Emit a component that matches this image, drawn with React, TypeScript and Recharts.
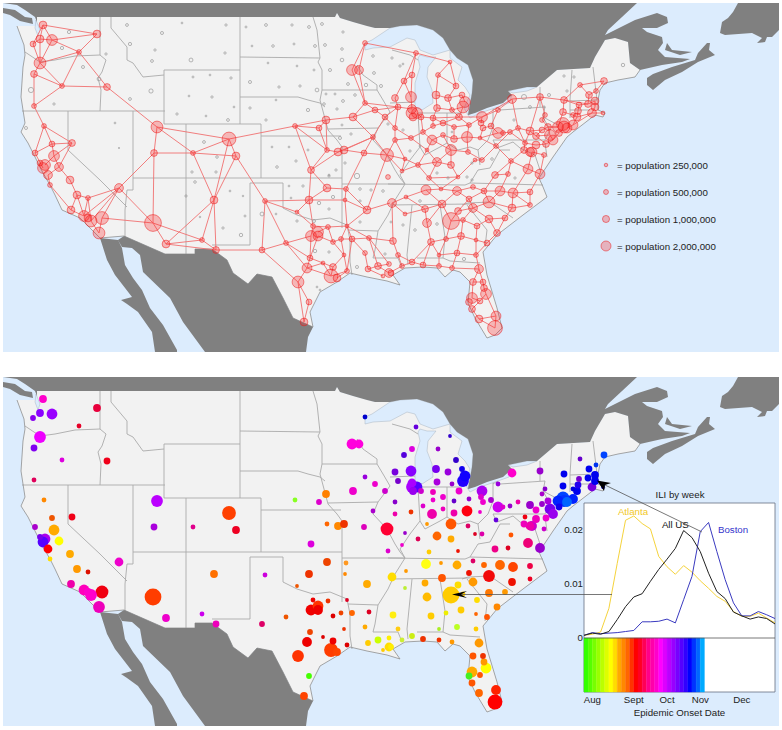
import React from 'react';
import {
  ScatterChart, Scatter, XAxis, YAxis, ZAxis, LineChart, Line, ReferenceArea, ReferenceLine, ReferenceDot,
} from 'recharts';

const FONT = '"Liberation Sans", Arial, sans-serif';
const SEA = '#dcecfd';
const LAND = '#f2f2f2';
const GREY = '#808080';

// outlines, in map units
const usCoast = [[17,26],[21,37],[24,45],[25,55],[23,67],[21,97],[23,110],[25,123],[21,132],[28,143],[35,157],[43,173],[50,185],[55,195],[62,210],[80,218],[97,235],[100,238],[124,236],[165,254],[195,254],[195,249],[212,249],[227,260],[233,273],[248,284],[257,274],[272,277],[283,298],[293,318],[313,327],[310,312],[320,292],[337,282],[350,273],[367,277],[387,281],[400,285],[393,275],[405,268],[423,267],[437,268],[445,277],[453,270],[460,272],[470,282],[468,303],[475,318],[487,338],[495,335],[502,328],[497,308],[487,275],[483,252],[497,235],[523,215],[547,197],[543,187],[539,178],[553,157],[567,137],[573,132],[595,115],[603,117],[605,113],[598,110],[598,100],[600,90],[605,83],[618,80],[635,77],[640,70]];
const usNorth = [[630,63],[628,42],[615,38],[605,40],[595,57],[590,68],[557,70],[537,87],[527,87],[508,91],[512,95],[503,103],[487,108],[475,113],[468,115],[473,80],[468,65],[457,58],[450,50],[443,38],[433,30],[417,25],[400,26],[390,28],[375,28],[353,22],[340,18],[337,13],[335,17],[37,17],[37,26],[17,26]];
const canadaOutline = [[3,3],[17,5],[25,10],[35,17],[37,22],[37,17],[335,17],[337,13],[340,18],[353,22],[367,26],[375,28],[390,28],[400,26],[417,25],[433,30],[443,38],[450,50],[457,58],[468,65],[473,80],[472,93],[468,115],[475,113],[487,108],[503,103],[512,95],[508,91],[527,87],[537,87],[557,70],[590,68],[595,57],[605,40],[615,38],[628,42],[630,63],[640,70],[662,65],[682,62],[690,59],[665,57],[658,50],[663,43],[662,37],[647,32],[642,28],[657,28],[668,23],[667,17],[657,13],[635,20],[615,30],[605,35],[608,30],[622,17],[637,3]];
const vancouverOutline = [[3,8],[15,10],[25,17],[32,18],[33,24],[20,21],[10,15],[3,13]];
const novaScotiaOutline = [[647,78],[653,74],[672,67],[695,60],[698,53],[707,43],[710,43],[709,50],[715,55],[698,62],[682,72],[665,80],[653,90],[647,85]];
const princeEdwardOutline = [[667,43],[672,50],[692,52],[680,55],[665,50]];
const newfoundlandOutline = [[722,22],[728,18],[733,12],[738,3],[779,3],[779,30],[772,37],[767,37],[765,42],[757,43],[762,38],[752,33],[725,35],[720,33]];
const mexicoOutline = [[124,236],[165,254],[195,254],[195,249],[212,249],[227,260],[233,273],[248,284],[257,274],[272,277],[283,298],[293,318],[313,327],[308,337],[306,352],[205,352],[183,322],[170,298],[143,272],[140,255],[132,248],[122,247],[118,240]];
const bajaOutline = [[100,238],[118,240],[122,248],[125,265],[133,278],[142,290],[150,308],[163,325],[177,350],[177,352],[155,352],[152,332],[138,312],[127,304],[121,300],[132,297],[115,275],[107,260]];
const lakes = [
  [[365,43],[372,40],[390,28],[400,26],[417,25],[433,30],[443,38],[450,50],[433,55],[420,50],[415,40],[407,38],[390,47],[373,48],[365,50]],
  [[420,55],[427,57],[436,57],[428,67],[427,77],[432,90],[433,103],[422,110],[415,107],[415,83],[420,67],[418,58]],
  [[450,50],[457,58],[468,65],[473,80],[472,93],[468,115],[464,108],[470,95],[465,87],[458,80],[462,67],[450,58]],
  [[468,115],[485,107],[503,100],[512,95],[509,103],[495,108],[480,113],[470,118]],
  [[508,91],[527,87],[537,87],[527,91],[513,93]],
  [[36,20],[40,30],[38,36],[35,28]],
];
const stateLines = [
  [[100,17],[100,55],[106,60],[102,72],[98,78],[101,90],[100,111]],
  [[25,52],[40,62],[55,60],[75,56],[100,55]],
  [[22,111],[165,111]],
  [[111,17],[111,28],[127,47],[127,60],[133,63],[143,77],[164,75]],
  [[164,70],[240,70]],
  [[164,70],[164,124],[261,124]],
  [[240,17],[240,124]],
  [[133,111],[133,190],[127,190],[125,210],[125,237]],
  [[68,111],[68,150],[100,180],[127,207]],
  [[186,124],[186,254]],
  [[133,178],[342,178]],
  [[261,124],[261,178]],
  [[261,136],[341,136]],
  [[240,97],[298,97],[308,100],[320,103],[325,107]],
  [[240,57],[320,58]],
  [[313,17],[317,30],[320,58],[318,62],[322,70],[322,90],[320,100],[328,130],[337,140],[342,147],[342,178],[342,228]],
  [[322,90],[377,90]],
  [[357,65],[363,75],[377,85],[377,90],[383,100],[390,112],[378,128],[373,140],[387,155],[395,170],[400,178],[405,184],[395,200],[388,215],[378,231],[375,250],[373,258],[398,258],[402,268]],
  [[328,129],[378,128]],
  [[342,184],[405,184]],
  [[250,183],[283,183],[283,208],[297,215],[313,220],[330,218],[347,225],[350,240],[350,262],[352,275]],
  [[250,183],[250,245],[212,245]],
  [[348,230],[378,231]],
  [[412,205],[407,255],[408,265]],
  [[390,205],[470,204]],
  [[388,184],[465,185],[470,183],[543,185]],
  [[462,205],[468,203],[490,202],[513,218]],
  [[467,205],[487,230],[485,247]],
  [[440,205],[445,237],[443,258],[450,261],[480,263]],
  [[417,258],[443,258]],
  [[447,113],[447,143]],
  [[418,113],[420,147]],
  [[418,113],[462,113]],
  [[390,103],[415,102]],
  [[392,50],[410,55],[418,60]],
  [[405,184],[400,175],[410,160],[420,147],[425,155],[440,147],[447,143],[458,150],[470,147],[478,150],[488,140],[493,127],[493,103]],
  [[493,110],[497,107],[500,110],[545,107],[543,117],[550,130],[545,140]],
  [[493,140],[545,140]],
  [[543,117],[558,125]],
  [[540,107],[540,87]],
  [[570,100],[570,118]],
  [[570,101],[597,100]],
  [[570,110],[590,110]],
  [[572,70],[570,100]],
  [[593,67],[597,100]],
  [[493,140],[497,148],[513,142],[520,148],[535,155],[540,170]],
  [[470,183],[478,170],[490,168],[500,150],[510,150]],
  [[478,150],[480,165]],
  [[545,143],[547,157]],
];

// cities over the population cut: x, y, population in millions, epidemic onset colour
const cities: [number, number, number, string][] = [
  [43,25,.98,'#ff00cc'],[97,34,.98,'#e8003c'],[40,39,.98,'#8a00ff'],[52,40,2,'#9900ff'],[33,44,.5,'#8800ee'],[79,52,.32,'#e60028'],[40,63,2.42,'#ee00ff'],[34,74,.72,'#8000f0'],[62,86,.32,'#dd00dd'],[107,87,.72,'#f0001a'],[34,106,.32,'#e0005a'],
  [157,127,2.42,'#bb00ff'],[229,139,3.38,'#ff4000'],[154,153,.72,'#aa00dd'],[193,153,.32,'#e0008c'],[236,156,.98,'#ee0022'],[295,126,.32,'#88ff22'],[319,128,.5,'#dd00cc'],[326,120,.98,'#ff8000'],[353,117,.98,'#ee00cc'],[365,103,.32,'#9900dd'],[375,110,.5,'#ee00cc'],[385,117,.5,'#cc00cc'],[373,137,.32,'#aa00cc'],[365,43,.32,'#0000cc'],[352,70,2,'#ff00dd'],[359,70,1.28,'#ff00dd'],
  [327,150,.32,'#ff6600'],[338,152,.98,'#ff8800'],[344,150,.98,'#ee3300'],[364,153,.5,'#dd00bb'],[387,155,2.88,'#ff0033'],[311,170,.72,'#dd00dd'],[388,177,.32,'#dd00cc'],
  [44,126,.32,'#ff8800'],[52,144,.5,'#ee5500'],[72,143,.72,'#f00018'],[35,153,.5,'#aa00cc'],[54,156,2,'#ffaa00'],[45,165,2,'#aa00ee'],[43,168,2,'#5500ff'],[40,163,.5,'#7700ee'],[59,167,1.28,'#ffff00'],[48,175,1.28,'#ff0000'],[70,180,.98,'#ffaa00'],
  [50,185,.32,'#ffdd00'],[77,195,.98,'#ff9900'],[88,198,.32,'#dd1100'],[71,210,.98,'#ee00aa'],[119,188,1.28,'#ee00cc'],[84,216,2,'#ff00bb'],[88,218,.98,'#ff00cc'],[91,221,2.42,'#ff00cc'],[102,218,2.88,'#f00010'],[99,233,2.42,'#ee00bb'],[153,223,5.12,'#ff3d00'],[166,244,.98,'#ee00cc'],[202,240,.32,'#cc00ee'],[216,250,.72,'#ee00bb'],[214,200,.98,'#ff7000'],[265,201,.32,'#cc00dd'],[262,250,.5,'#dd0066'],[286,243,.32,'#ee5500'],[297,212,.18,'#ee5500'],[309,200,.98,'#ee3300'],[327,188,.98,'#ee4400'],[346,189,.32,'#ff9922'],[345,200,.18,'#ff8800'],[367,210,.98,'#ffaa00'],
  [313,226,.32,'#ee0000'],[311,236,2,'#f00000'],[318,236,1.62,'#ee0000'],[318,232,2,'#ff3300'],[328,227,.32,'#ee3300'],[347,226,.18,'#dd0022'],[333,242,.32,'#dd0000'],[341,239,.32,'#ee4400'],[352,239,.5,'#ff6600'],[369,238,.32,'#dd0022'],[310,258,.5,'#ee4400'],[307,268,1.62,'#ee0000'],[323,263,.18,'#dd0000'],[333,267,.72,'#ee0000'],[331,276,3.38,'#ff3d00'],[337,278,.98,'#ff4400'],[344,255,.18,'#ee3300'],[347,271,.32,'#dd0000'],[298,282,2.42,'#ff3300'],[309,302,.5,'#44ff00'],[304,322,.98,'#ff4400'],[365,253,.32,'#ffaa00'],[368,269,.5,'#ffcc00'],[378,266,.72,'#ccff00'],[383,276,.18,'#ffcc00'],[389,273,1.28,'#ffdd00'],[389,264,.32,'#ffee00'],
  [392,203,1.28,'#ffdd00'],[406,197,.18,'#ff9900'],[405,214,.18,'#bbee33'],[426,190,1.62,'#ffff11'],[441,189,.18,'#ff9900'],[457,191,1.28,'#ffaa00'],[473,187,.32,'#dd0066'],[484,191,.5,'#ff6600'],[500,191,1.62,'#ff6600'],[513,193,1.62,'#ff4400'],[530,192,.5,'#ee0044'],[469,199,.5,'#ee1100'],[489,202,2.42,'#f20a0a'],[425,209,.72,'#ffaa00'],[442,204,.98,'#ff5500'],[473,208,1.28,'#ff9900'],[512,208,.98,'#ee1100'],[530,205,.32,'#ee0022'],[458,211,.72,'#ffdd00'],[427,223,1.28,'#ffbb00'],[451,221,5.12,'#ffcc00'],[463,220,.32,'#ffcc00'],[489,219,.98,'#ff7700'],[505,218,.5,'#ff9900'],[477,226,.5,'#ffdd00'],[461,236,.72,'#ffcc00'],[497,233,.72,'#ff8800'],[431,242,.72,'#ffcc00'],[446,239,.32,'#eeee00'],[476,240,.18,'#ff6600'],[487,243,.5,'#ff5500'],[393,241,.72,'#ffee11'],[398,255,.32,'#ffcc11'],[439,255,.18,'#aaee22'],[457,253,.5,'#bbff22'],[476,255,.32,'#ffcc00'],[412,262,.5,'#ccee11'],[402,266,.32,'#ccee33'],[423,265,.5,'#ee3300'],[439,266,.32,'#ee3300'],[452,268,.32,'#ff9900'],[391,273,.5,'#ffee00'],
  [479,269,1.28,'#ff9900'],[473,282,.72,'#ff5500'],[483,282,.5,'#ee3300'],[484,288,.72,'#ff9900'],[472,298,2,'#ffaa00'],[469,302,.72,'#44ee22'],[486,294,2,'#ffff00'],[480,301,.5,'#ff5500'],[472,309,.72,'#ff5500'],[479,319,.98,'#ff6600'],[496,316,1.62,'#ff2200'],[495,328,3.92,'#ff0000'],
  [416,53,.32,'#6600dd'],[450,62,.18,'#3300cc'],[412,75,.5,'#dd00dd'],[438,75,.32,'#9900cc'],[404,81,.5,'#5500dd'],[456,86,.5,'#3300cc'],[436,95,.98,'#7700ee'],[395,98,.72,'#7700dd'],[411,97,2,'#8800ff'],[448,98,.72,'#9900dd'],[462,95,.5,'#1100ee'],[465,102,2,'#1100ff'],[463,107,2.42,'#2200ff'],[437,108,.72,'#aa00dd'],[452,110,.32,'#9900cc'],[398,107,.5,'#7700cc'],[412,109,1.28,'#aa00ff'],[412,113,2.42,'#aa00ff'],[417,113,2,'#5500ff'],[413,117,.98,'#9900ee'],[421,117,.5,'#cc00cc'],[433,118,.5,'#ee00bb'],[459,117,.72,'#ee00cc'],[482,117,2,'#aa00ee'],[512,99,1.28,'#ff00cc'],[540,97,.72,'#9900cc'],[498,110,.32,'#9900dd'],[481,123,.5,'#dd00cc'],[483,128,.5,'#ee00cc'],[491,126,.5,'#aa00cc'],[498,133,2,'#cc00ee'],[503,133,.32,'#dd00cc'],[510,132,.32,'#9900cc'],[518,128,.32,'#ee00aa'],[443,123,.5,'#ee00cc'],[433,126,.32,'#ee00cc'],[454,127,.32,'#6600cc'],[469,125,.32,'#9900cc'],[395,128,.32,'#8800cc'],[423,132,.32,'#dd00cc'],[443,135,.32,'#ee00bb'],[395,140,.32,'#ee00aa'],[411,138,.32,'#ee3300'],[432,140,1.62,'#ee00aa'],[454,139,.72,'#ee00aa'],[467,137,2,'#ff0010'],[480,138,.18,'#ee00cc'],[496,146,.32,'#6600dd'],[451,150,2,'#ff5500'],[427,150,.18,'#ff9900'],[468,152,.32,'#dd0066'],[482,160,.32,'#dd00aa'],[475,160,.18,'#dd0022'],[405,159,.18,'#9900cc'],[437,162,1.28,'#ff6600'],[451,165,.72,'#ffaa00'],[418,165,.32,'#dd0055'],[402,171,.18,'#ee00cc'],[429,178,.32,'#ffcc00'],[458,177,.18,'#ee1100'],[495,175,.72,'#ee0088'],[508,174,.32,'#dd0022'],[540,174,1.62,'#9900cc'],[528,169,1.62,'#ee0077'],[511,161,.32,'#ff5500'],
  [530,131,.98,'#9900cc'],[542,130,.5,'#9900cc'],[545,115,.32,'#8800cc'],[542,120,.32,'#aa00cc'],[548,127,.72,'#aa00dd'],[536,136,.72,'#ee00cc'],[550,135,2,'#7700ee'],[553,140,1.62,'#9900ee'],[546,144,.72,'#ee00cc'],[525,143,.32,'#ee0011'],[536,145,.98,'#ee00bb'],[532,152,1.62,'#cc00cc'],[524,150,.72,'#ee00bb'],[530,152,1.28,'#ee00aa'],[544,155,.32,'#cc00cc'],
  [558,127,2,'#0022ff'],[573,125,1.62,'#0022ff'],[563,124,2.88,'#0044ff'],[564,127,2.42,'#0033ff'],[567,128,1.62,'#0066ff'],[559,133,.72,'#1100ee'],[563,112,.72,'#0000ee'],[564,100,.72,'#0000ee'],[573,115,.32,'#0000dd'],[577,117,.98,'#0000ee'],[578,111,.72,'#2200ee'],[579,105,.5,'#7700cc'],[592,113,1.28,'#7700dd'],[588,104,.72,'#0000ee'],[589,95,.72,'#0000ee'],[596,91,.32,'#0033ee'],[604,81,.72,'#0044ff'],[595,101,.98,'#0000ee'],[595,107,.98,'#0000ee'],[603,113,.18,'#0000ee'],[580,85,.32,'#6600cc'],
];

// small towns drawn only on the population map
const towns: [number, number, number][] = [
  [127,25,.1],[162,33,.12],[182,23,.03],[226,25,.06],[246,27,.04],[266,25,.1],[292,25,.06],[309,27,.1],[322,24,.1],[343,32,.06],[130,44,.14],[155,50,.06],[225,53,.06],[152,61,.1],[191,60,.22],[69,32,.14],[62,48,.14],[106,54,.06],[83,67,.12],[99,79,.2],[31,90,.42],[151,91,.26],[130,99,.1],[54,104,.06],[193,77,.04],[210,75,.03],[231,78,.06],[189,96,.03],[212,97,.06],[234,107,.03],[177,114,.06],[206,116,.03],[228,120,.1],[250,82,.12],[279,87,.06],[300,86,.06],[317,90,.2],[326,94,.04],[335,94,.04],[348,84,.1],[366,85,.16],[381,86,.12],[355,95,.08],[343,101,.1],[250,108,.06],[276,100,.03],[308,110,.14],[324,104,.08],[337,109,.06],[266,120,.06],[342,125,.04],[388,124,.06],[351,134,.06],[340,138,.12],[272,147,.03],[289,147,.03],[296,161,.06],[277,167,.08],[308,150,.04],[345,163,.06],[336,170,.06],[329,175,.03],[357,176,.45],[252,46,.03],[273,46,.08],[294,44,.04],[315,46,.1],[325,45,.1],[342,49,.08],[342,60,.18],[330,70,.12],[268,63,.03],[297,66,.03],[314,70,.04],[373,56,.08],[374,73,.1],[115,123,.03],[119,148,.01],[26,128,.12],[204,142,.1],[217,157,.08],[216,172,.06],[192,172,.06],
  [195,182,.08],[230,191,.03],[186,196,.06],[243,196,.02],[200,217,.02],[223,228,.06],[245,216,.04],[241,235,.16],[262,214,.22],[276,214,.03],[291,198,.03],[289,186,.03],[303,186,.06],[329,176,.06],[319,203,.16],[333,197,.14],[329,209,.06],[297,221,.06],[314,221,.12],[360,201,.06],[360,189,.08],[371,190,.06],[383,191,.08],[315,251,.16],[329,252,.06],[357,267,.12],[385,254,.06],[360,222,.06],[320,290,.03],[317,287,.03],
  [392,58,.06],[400,66,.06],[403,64,.03],[623,65,.16],[564,76,.06],[574,77,.06],[567,91,.06],[549,95,.12],[524,97,.4],[530,107,.1],[514,120,.06],[544,107,.06],[403,130,.06],[410,151,.06],[420,146,.03],[437,173,.06],[467,177,.06],[472,163,.06],[492,159,.08],[452,132,.03],
  [403,225,.06],[415,230,.08],[437,224,.08],[464,259,.14],[391,222,.04],[420,201,.08],[448,178,.06],[472,180,.06],[515,178,.06],
];

// network links, x1 y1 x2 y2
const links = [
  [43,25,97,34],[97,34,52,40],[52,40,40,39],[40,39,43,25],[43,25,33,44],[33,44,40,39],[40,39,40,63],[33,44,40,63],[52,40,79,52],[52,40,40,63],[40,63,79,52],[97,34,79,52],[79,52,107,87],[79,52,62,86],[43,25,52,40],[40,63,34,74],[40,63,62,86],[34,74,62,86],[34,74,34,106],[62,86,107,87],[62,86,34,106],[107,87,157,127],[34,106,44,126],[44,126,52,144],[44,126,35,153],[52,144,72,143],[52,144,54,156],[44,126,72,143],[72,143,54,156],[72,143,59,167],[35,153,43,168],[35,153,52,144],[54,156,59,167],[54,156,45,165],[59,167,48,175],[59,167,70,180],[48,175,50,185],[50,185,71,210],[70,180,77,195],[77,195,71,210],[77,195,88,198],[88,198,84,216],[88,198,119,188],[119,188,84,216],[119,188,91,221],[119,188,102,218],[88,198,91,221],[77,195,84,216],[71,210,84,216],[102,218,153,223],[99,233,102,218],[99,233,91,221],[119,188,153,223],[119,188,154,153],[154,153,157,127],[154,153,153,223],[154,153,193,153],[157,127,193,153],[157,127,229,139],[193,153,229,139],[193,153,236,156],[229,139,236,156],[229,139,214,200],[236,156,214,200],[193,153,214,200],[236,156,265,201],[229,139,295,126],[295,126,319,128],[295,126,326,120],[326,120,353,117],[319,128,326,120],[319,128,327,150],[326,120,327,150],[295,126,327,150],[295,126,311,170],[311,170,338,152],[311,170,327,150],[327,150,338,152],[338,152,344,150],[344,150,364,153],[364,153,387,155],[353,117,373,137],[353,117,375,110],[365,103,375,110],[375,110,385,117],[373,137,385,117],[373,137,344,150],[373,137,387,155],[373,137,364,153],[338,152,373,137],[353,117,365,103],[365,43,352,70],[365,43,359,70],[352,70,365,103],[359,70,365,103],[365,43,416,53],[365,103,398,107],[375,110,398,107],[385,117,398,107],[385,117,395,128],
  [311,170,309,200],[309,200,327,188],[311,170,327,188],[327,188,346,189],[346,189,345,200],[345,200,367,210],[346,189,367,210],[309,200,345,200],[265,201,309,200],[265,201,297,212],[297,212,309,200],[297,212,313,226],[265,201,262,250],[265,201,286,243],[286,243,311,236],[262,250,286,243],[216,250,262,250],[214,200,216,250],[214,200,202,240],[214,200,166,244],[153,223,166,244],[153,223,202,240],[166,244,202,240],[166,244,216,250],[202,240,216,250],[286,243,307,268],[262,250,298,282],[286,243,310,258],[309,200,313,226],[345,200,347,226],[313,226,328,227],[328,227,347,226],[311,236,313,226],[318,232,328,227],[318,236,333,242],[333,242,341,239],[341,239,347,226],[341,239,352,239],[352,239,369,238],[347,226,369,238],[347,226,352,239],[367,210,347,226],[367,210,390,203],[328,227,333,242],[311,236,310,258],[318,236,310,258],[333,242,344,255],[341,239,344,255],[352,239,365,253],[344,255,347,271],[365,253,368,269],[368,269,378,266],[378,266,389,264],[378,266,389,273],[368,269,383,276],[347,271,337,278],[347,271,352,239],[344,255,333,267],[333,267,323,263],[323,263,310,258],[310,258,307,268],[307,268,298,282],[307,268,323,263],[323,263,331,276],[331,276,347,271],[298,282,309,302],[298,282,304,322],[309,302,304,322],[307,268,331,276],[333,267,331,276],
  [416,53,404,81],[416,53,412,75],[412,75,404,81],[404,81,395,98],[404,81,411,97],[412,75,411,97],[395,98,398,107],[398,107,412,109],[411,97,412,109],[416,53,450,62],[450,62,438,75],[450,62,456,86],[438,75,456,86],[438,75,436,95],[456,86,448,98],[436,95,448,98],[436,95,437,108],[448,98,452,110],[437,108,452,110],[452,110,463,107],[448,98,462,95],[462,95,465,102],[463,107,459,117],[459,117,452,110],[437,108,433,118],[433,118,421,117],[421,117,417,113],[433,118,459,117],[433,118,443,123],[443,123,459,117],[459,117,482,117],[482,117,512,99],[482,117,498,110],[498,110,512,99],[512,99,540,97],[540,97,564,100],[540,97,530,131],[512,99,518,128],[498,110,491,126],[491,126,498,133],[481,123,482,117],[483,128,491,126],[469,125,482,117],[469,125,459,117],[469,125,454,127],[454,127,443,123],[443,123,433,126],[433,118,433,126],[433,126,423,132],[423,132,421,117],[423,132,432,140],[432,140,443,135],[443,135,454,139],[454,127,454,139],[454,139,467,137],[467,137,469,125],[467,137,480,138],[480,138,483,128],[480,138,498,133],[498,133,503,133],[503,133,510,132],[510,132,518,128],[518,128,530,131],[530,131,542,130],[542,130,548,127],[548,127,558,127],[432,140,451,150],[451,150,468,152],[443,135,451,150],[468,152,467,137],[468,152,482,160],[482,160,496,146],[496,146,480,138],[482,160,475,160],[451,150,437,162],[437,162,427,150],[427,150,432,140],[427,150,411,138],[411,138,395,140],[395,128,411,138],[395,128,398,107],[395,128,395,140],[411,138,423,132],[395,140,405,159],[405,159,418,165],[418,165,427,150],[418,165,437,162],[437,162,451,165],[451,165,451,150],[451,165,458,177],[458,177,475,160],[418,165,429,178],[429,178,437,162],[402,171,418,165],[402,171,405,159],[387,155,405,159],[387,155,395,140],[387,155,402,171],[429,178,458,177],[441,189,429,178],[441,189,458,177],[441,189,426,190],[441,189,457,191],[457,191,473,187],[473,187,484,191],[484,191,500,191],[500,191,513,193],[513,193,530,192],[500,191,508,174],[508,174,495,175],[495,175,484,191],[495,175,511,161],[511,161,508,174],[511,161,528,169],[528,169,540,174],[540,174,530,192],[513,193,528,169],[513,193,530,205],[530,192,530,205],[513,193,512,208],[512,208,530,205],[489,202,500,191],[489,202,484,191],[489,202,512,208],[489,202,473,208],[473,208,469,199],[469,199,484,191],[469,199,457,191],[457,191,442,204],[442,204,426,190],[426,190,406,197],[406,197,425,209],[425,209,442,204],[406,197,392,203],[392,203,405,214],[405,214,425,209],[425,209,427,223],[427,223,442,204],[442,204,451,221],[451,221,458,211],[458,211,469,199],[458,211,473,208],[451,221,463,220],[463,220,473,208],[463,220,477,226],[477,226,489,219],[489,219,473,208],[489,219,505,218],[505,218,512,208],[505,218,497,233],[497,233,489,219],[497,233,487,243],[477,226,476,240],[476,240,487,243],[476,240,461,236],[461,236,463,220],[451,221,446,239],[446,239,461,236],[446,239,431,242],[431,242,427,223],[446,239,439,255],[431,242,439,255],[439,255,457,253],[457,253,461,236],[457,253,476,255],[476,255,476,240],[476,255,487,243],[431,242,412,262],[439,266,439,255],[439,266,452,268],[452,268,457,253],[439,266,423,265],[423,265,412,262],[412,262,402,266],[402,266,389,273],[402,266,398,255],[398,255,393,241],[393,241,392,203],[398,255,412,262],[479,269,476,255],[479,269,473,282],[479,269,483,282],[473,282,472,298],[483,282,484,288],[484,288,486,294],[486,294,480,301],[480,301,472,298],[480,301,472,309],[472,309,479,319],[479,319,495,328],[495,328,496,316],[496,316,486,294],[479,319,496,316],[473,282,483,282],[452,268,479,269],[423,265,431,242],[369,238,393,241],[369,238,378,266],[369,238,389,264],[387,155,367,210],[346,189,364,153],
  [558,127,563,112],[563,112,564,100],[563,112,573,115],[573,115,577,117],[577,117,592,113],[592,113,603,113],[592,113,595,107],[595,107,595,101],[595,101,588,104],[588,104,579,105],[579,105,578,111],[578,111,577,117],[589,95,588,104],[589,95,596,91],[596,91,604,81],[580,85,604,81],[580,85,589,95],[580,85,564,100],[564,100,579,105],[564,100,588,104],[573,125,577,117],[567,128,573,125],[573,125,592,113],[558,127,548,127],[559,133,553,140],[553,140,550,135],[550,135,548,127],[546,144,553,140],[546,144,536,145],[536,136,546,144],[536,136,550,135],[536,136,530,131],[525,143,536,145],[525,143,530,131],[525,143,510,132],[524,150,525,143],[532,152,544,155],[544,155,540,174],[532,152,528,169],[524,150,511,161],[496,146,510,132],[496,146,511,161],[545,115,542,120],[542,120,548,127],[545,115,540,97],[542,130,536,136],[518,128,525,143],
];

const legendPopulations = [0.25, 0.5, 1, 2];
const legendX = [606, 606, 606, 606];
const legendY = [165, 192, 219, 246];
const legendLabels = ['= population 250,000', '= population 500,000', '= population 1,000,000', '= population 2,000,000'];

// inset: ILI by week
const weeks = [0,1,2,3,4,5,6,7,8,9,10,11,12,13,14,15,16,17,18,19,20,21,22,23];
const atlanta = [.0005,.0007,.0011,.0055,.0138,.0218,.0226,.0212,.0202,.0151,.0132,.0118,.0134,.0122,.0106,.0092,.0077,.0068,.0049,.004,.004,.0046,.0037,.0028];
const allUs = [.0005,.0009,.0007,.0012,.0034,.0058,.0076,.0082,.0105,.0127,.0146,.0166,.0199,.0186,.016,.012,.0086,.0073,.0048,.0041,.0035,.0039,.0036,.0026];
const boston = [.0005,.001,.0008,.0009,.001,.0012,.0014,.003,.003,.0031,.0035,.0028,.0071,.0114,.0197,.0214,.016,.0108,.0065,.0041,.0041,.0049,.0043,.0036];
const monthTicks = [1, 6, 10, 14, 19];
const monthLabels = ['Aug', 'Sept', 'Oct', 'Nov', 'Dec'];
const onsetColors = ['#33ff00','#55ff00','#77ff00','#99ff00','#bbff00','#ddff00','#ffff00','#ffdd00','#ffaa00','#ff8800','#ff6600','#ff3300','#ff0000','#ff0022','#ff0055','#ff0088','#ff00aa','#ff00cc','#ff00ff','#dd00ff','#bb00ff','#9900ff','#7700ff','#5500ff','#3300ff','#0000ff','#0033ff','#0066ff','#00aaff'];
const insetData = weeks.map((week, i) => ({ week, atlanta: atlanta[i], allUs: allUs[i], boston: boston[i] }));

// arrows over the lower map
const arrowLines = [
  [[461,220.5],[612,220.5]],
  [[605,111],[702,158]],
];
const arrowHeads = [
  [[452,220.5],[467,217],[461,220.5],[467,224]],
  [[597,106.5],[611,109],[605,111],[604,117]],
];

const NoMark = () => <g />;

// several closed or open outlines drawn as one series
function outlines(key: string, polys: number[][][], fill: string, stroke = 'none', strokeWidth = 0.8) {
  const data = polys.flat().map(([x, y]) => ({ x, y }));
  const OutlinePath = ({ points }: any) => {
    let d = '';
    let at = 0;
    polys.forEach((poly) => {
      d += poly.map((_, i) => `${i ? 'L' : 'M'}${points[at + i].x},${points[at + i].y}`).join('');
      if (fill !== 'none') d += 'Z';
      at += poly.length;
    });
    return <path d={d} fill={fill} stroke={stroke} strokeWidth={strokeWidth} />;
  };
  return <Scatter key={key} data={data} shape={NoMark} line={OutlinePath} isAnimationActive={false} />;
}

function geography() {
  return [
    outlines('us', [[...usCoast, ...usNorth]], LAND),
    outlines('states', stateLines, 'none', '#aaaaaa', 0.9),
    outlines('coast', [usCoast], 'none', '#8f8f8f', 0.8),
    outlines('lakes', lakes, SEA, '#a8b4c0', 0.5),
    outlines('grey', [canadaOutline, vancouverOutline, novaScotiaOutline, princeEdwardOutline, newfoundlandOutline, mexicoOutline, bajaOutline], GREY),
  ];
}

const MapFrame = ({ top, background, children }: any) => (
  <div style={{ position: 'absolute', left: 3, top, width: 776, height: 349, background }}>
    <ScatterChart width={776} height={349} margin={{ top: 0, right: 0, bottom: 0, left: 0 }}>
      <XAxis type="number" dataKey="x" domain={[3, 779]} allowDataOverflow hide />
      <YAxis type="number" dataKey="y" domain={[3, 352]} reversed allowDataOverflow hide />
      <ZAxis type="number" dataKey="pop" domain={[0, 5.12]} range={[0, 201]} />
      {children}
    </ScatterChart>
  </div>
);

const LinkPath = ({ points }: any) => {
  let d = '';
  for (let i = 0; i + 1 < points.length; i += 2) {
    d += `M${points[i].x},${points[i].y}L${points[i + 1].x},${points[i + 1].y}`;
  }
  return <path d={d} fill="none" stroke="#f07070" strokeWidth={0.9} />;
};

const RingDot = (p: any) => (
  <circle cx={p.cx} cy={p.cy} r={p.width / 2 + 0.4} fill="rgba(255,30,30,0.28)" stroke="rgba(235,20,20,0.62)" strokeWidth={0.8} />
);
const TownDot = (p: any) => (
  <circle cx={p.cx} cy={p.cy} r={p.width / 2 + 0.3} fill="none" stroke="#9a9a9a" strokeWidth={0.7} />
);
const OnsetDot = (p: any) => <circle cx={p.cx} cy={p.cy} r={p.width / 2 + 0.4} fill={p.payload.color} />;
const LegendDot = (p: any) => (
  <g>
    <circle cx={p.cx} cy={p.cy} r={p.width / 2} fill="rgba(255,30,30,0.28)" stroke="rgba(235,20,20,0.62)" strokeWidth={0.8} />
    <text x={p.cx + 11} y={p.cy + 4} fontFamily={FONT} fontSize={9.7} fill="#222">{p.payload.label}</text>
  </g>
);

const cityData = [...cities]
  .sort((a, b) => b[2] - a[2])
  .map(([x, y, pop, color]) => ({ x, y, pop, color }));
const townData = towns.map(([x, y, pop]) => ({ x, y, pop }));
const linkData = links.flatMap(([a, b, c, d]) => [{ x: a, y: b }, { x: c, y: d }]);
const legendData = legendPopulations.map((pop, i) => ({ x: legendX[i], y: legendY[i], pop, label: legendLabels[i] }));

const Inset = () => (
  <div style={{ position: 'absolute', left: 544, top: 495, width: 240, height: 232 }}>
    <LineChart width={240} height={232} data={insetData} margin={{ top: 8, right: 9, bottom: 0, left: 0 }}>
      <XAxis type="number" dataKey="week" domain={[0, 23]} ticks={monthTicks} allowDataOverflow
        tickFormatter={(v: number) => monthLabels[monthTicks.indexOf(v)]} axisLine={false} tickLine={false}
        height={35} tickMargin={-2} interval={0}
        tick={{ fontFamily: FONT, fontSize: 9.7, fill: '#222' }}
        label={{ value: 'Epidemic Onset Date', position: 'insideBottom', offset: 11, fontFamily: FONT, fontSize: 9.7, fill: '#222' }} />
      <YAxis type="number" domain={[-0.01, 0.025]} ticks={[0, 0.01, 0.02]} allowDataOverflow width={40}
        axisLine={false} tickLine={false} tickSize={0} tickMargin={1} interval={0}
        tick={{ fontFamily: FONT, fontSize: 9.7, fill: '#222' }} />
      <ReferenceArea x1={0} x2={23} y1={-0.01} y2={0.025} fill="#ffffff" fillOpacity={1} stroke="#667080" strokeWidth={0.8} />
      {onsetColors.map((c, i) => (
        <ReferenceArea key={c} x1={i / 2} x2={(i + 1) / 2} y1={-0.01} y2={0} fill={c} fillOpacity={1} stroke={c} strokeWidth={0.4} />
      ))}
      <ReferenceLine y={0} stroke="#555" strokeWidth={0.8} />
      <Line dataKey="atlanta" stroke="#f5d33c" strokeWidth={1} dot={false} isAnimationActive={false} />
      <Line dataKey="boston" stroke="#3a3ac0" strokeWidth={1} dot={false} isAnimationActive={false} />
      <Line dataKey="allUs" stroke="#222222" strokeWidth={1} dot={false} isAnimationActive={false} />
      <ReferenceDot x={5.9} y={0.0235} r={0} stroke="none" fill="none"
        label={{ value: 'Atlanta', position: 'center', fontFamily: FONT, fontSize: 9.7, fill: '#f2c81e' }} />
      <ReferenceDot x={11} y={0.0211} r={0} stroke="none" fill="none"
        label={{ value: 'All US', position: 'center', fontFamily: FONT, fontSize: 9.7, fill: '#111' }} />
      <ReferenceDot x={17.95} y={0.02} r={0} stroke="none" fill="none"
        label={{ value: 'Boston', position: 'center', fontFamily: FONT, fontSize: 9.7, fill: '#3333cc' }} />
    </LineChart>
  </div>
);

export default function App() {
  return (
    <div style={{ position: 'absolute', left: 0, top: 0, width: 782, height: 730, background: '#fff', overflow: 'hidden' }}>
      <MapFrame top={3} background={SEA}>
        {geography()}
        <Scatter data={linkData} shape={NoMark} line={LinkPath} isAnimationActive={false} />
        <Scatter data={townData} shape={TownDot} isAnimationActive={false} />
        <Scatter data={cityData} shape={RingDot} isAnimationActive={false} />
        <Scatter data={legendData} shape={LegendDot} isAnimationActive={false} />
      </MapFrame>
      <MapFrame top={376.5} background={SEA}>
        {geography()}
        <Scatter data={cityData} shape={OnsetDot} isAnimationActive={false} />
      </MapFrame>
      <div style={{ position: 'absolute', left: 640, top: 489, width: 80, textAlign: 'center', fontFamily: FONT, fontSize: 9.7, color: '#222' }}>
        ILI by week
      </div>
      <Inset />
      <MapFrame top={376.5} background="transparent">
        {outlines('arrow-lines', arrowLines, 'none', '#555555', 0.8)}
        {outlines('arrow-heads', arrowHeads, '#000000')}
      </MapFrame>
    </div>
  );
}
